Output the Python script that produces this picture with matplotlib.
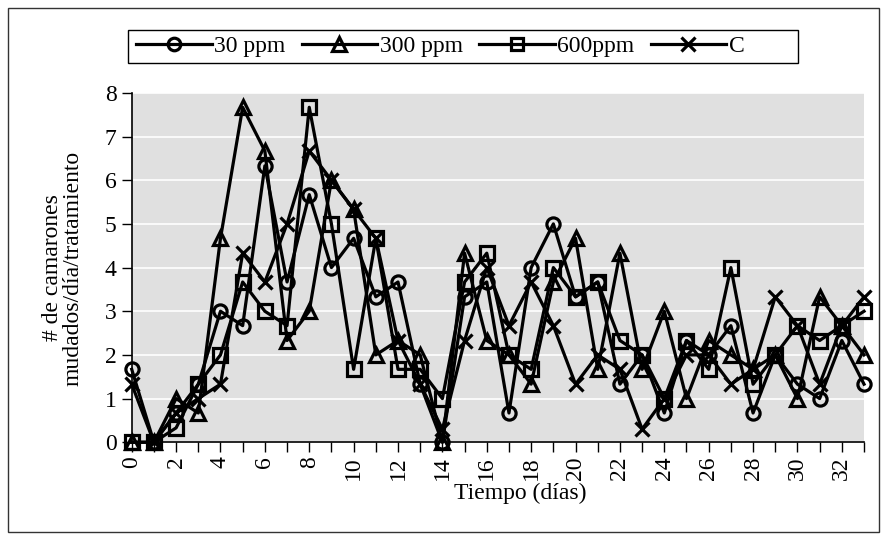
import numpy as np
import matplotlib
matplotlib.use("Agg")
import matplotlib.pyplot as plt
from matplotlib.patches import Rectangle

plt.rcParams['font.family'] = ['Liberation Serif', 'DejaVu Serif']

# days and molts per day per treatment
dias = list(range(34))
ppm30 = [1.67, 0, 0.67, 1.33, 3.0, 2.67, 6.33, 3.67, 5.67, 4.0, 4.67, 3.33, 3.67, 1.33, 0, 3.33, 3.67,
         0.67, 4.0, 5.0, 3.33, 3.67, 1.33, 2.0, 0.67, 2.33, 2.0, 2.67, 0.67, 2.0, 1.33, 1.0, 2.33, 1.33]
ppm300 = [0, 0, 1.0, 0.67, 4.67, 7.67, 6.67, 2.33, 3.0, 6.0, 5.33, 2.0, 2.33, 2.0, 0, 4.33, 2.33,
          2.0, 1.33, 3.67, 4.67, 1.67, 4.33, 1.67, 3.0, 1.0, 2.33, 2.0, 1.67, 2.0, 1.0, 3.33, 2.67, 2.0]
ppm600 = [0, 0, 0.33, 1.33, 2.0, 3.67, 3.0, 2.67, 7.67, 5.0, 1.67, 4.67, 1.67, 1.67, 1.0, 3.67, 4.33,
          2.0, 1.67, 4.0, 3.33, 3.67, 2.33, 2.0, 1.0, 2.33, 1.67, 4.0, 1.33, 2.0, 2.67, 2.33, 2.67, 3.0]
control = [1.33, 0, 0.67, 1.0, 1.33, 4.33, 3.67, 5.0, 6.67, 6.0, 5.33, 4.67, 2.33, 1.33, 0.3, 2.33, 4.0,
           2.67, 3.67, 2.67, 1.33, 2.0, 1.67, 0.3, 1.0, 2.0, 2.0, 1.33, 1.67, 3.33, 2.67, 1.33, 2.67, 3.33]

series = [("30 ppm", ppm30, "o", 9.5), ("300 ppm", ppm300, "^", 10.5),
          ("600ppm", ppm600, "s", 9.5), ("C", control, "x", 10.5)]

FS = 17

fig = plt.figure(figsize=(8.87, 5.4), dpi=100)
ax = fig.add_axes([0.1485, 0.181, 0.8256, 0.647])
ax.set_facecolor("#e0e0e0")

for name, vals, mk, ms in series:
    ax.plot(dias, vals, color="black", lw=2.3, marker=mk, markersize=ms,
            markerfacecolor="none", markeredgecolor="black", markeredgewidth=2.3,
            label=name, clip_on=False, zorder=3)

ax.set_xlim(0, 33)
ax.set_ylim(0, 8)
ax.set_yticks(range(9))
ax.yaxis.grid(True, color="white", lw=1.2)
ax.set_axisbelow(True)
ax.set_xticks(dias)
ax.set_xticklabels([str(d) if d % 2 == 0 else "" for d in dias], rotation=90)
ax.tick_params(axis="both", direction="out", length=7, width=1, labelsize=FS, color="black")
ax.tick_params(axis="x", pad=3)
ax.tick_params(axis="y", pad=4)
for s in ["top", "right"]:
    ax.spines[s].set_visible(False)
for s in ["left", "bottom"]:
    ax.spines[s].set_linewidth(1.2)

fig.text(63 / 887, 1 - 268 / 540, "# de camarones\nmudados/día/tratamiento", fontsize=FS,
         rotation=90, ha="center", va="center", multialignment="center", linespacing=1.0)
fig.text(520 / 887, 1 - 493 / 540, "Tiempo (días)", fontsize=FS, ha="center", va="center")

leg = fig.legend(loc="center left", bbox_to_anchor=(136 / 887, 1 - 46.5 / 540), ncol=4,
                 fontsize=FS, frameon=False, handlelength=3.2, handletextpad=0.1,
                 columnspacing=0.7, borderpad=0, borderaxespad=0, markerscale=0.95)

# legend box and outer chart border
fig.patches.append(Rectangle((128 / 887, 1 - 63 / 540), 670 / 887, 33 / 540, transform=fig.transFigure,
                             fill=False, edgecolor="black", lw=1.0))
fig.patches.append(Rectangle((8 / 887, 8 / 540), 871 / 887, 524 / 540, transform=fig.transFigure,
                             fill=False, edgecolor="#333333", lw=1.0))

fig.savefig("out.png", dpi=100)
